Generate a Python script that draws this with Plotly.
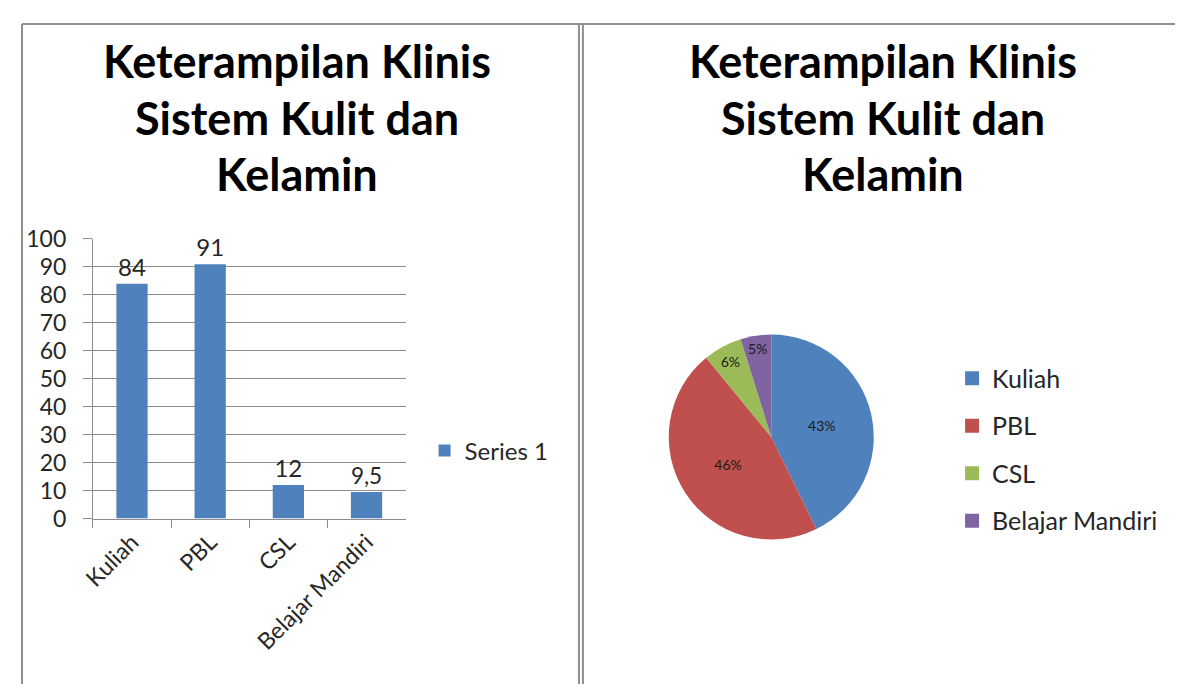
import plotly.graph_objects as go

categories = ["Kuliah", "PBL", "CSL", "Belajar Mandiri"]
values = [84, 91, 12, 9.5]
series_name = "Series 1"
title_lines = ["Keterampilan Klinis", "Sistem Kulit dan", "Kelamin"]
y_ticks = list(range(0, 101, 10))

colors = ["#4F81BD", "#C0504D", "#9BBB59", "#8064A2"]
W, H = 1183, 689
FONT = "Lato"
TXT = "#262626"
GRID = "#8c8c8c"

# measured photo mapping: screen = offset + scale * figure pixel
SX, OX = 0.99, 19
SY, OY = 0.964, 21


def px(x):
    return ((x - OX) / SX) / W


def py(y):
    return 1 - ((y - OY) / SY) / H


fig = go.Figure()

fig.add_trace(go.Bar(
    x=categories, y=values, name=series_name,
    marker=dict(color=colors[0], line=dict(width=0)),
    width=0.4,
    texttemplate="%{y}", textposition="outside",
    textfont=dict(family=FONT, size=24, color=TXT),
    cliponaxis=False, legend="legend", showlegend=True,
))

fig.add_trace(go.Pie(
    labels=categories,
    values=values,
    marker=dict(colors=colors, line=dict(width=0)),
    sort=False, direction="clockwise", rotation=0,
    texttemplate="%{percent:.0%}", textposition="inside",
    insidetextorientation="horizontal",
    textfont=dict(family=FONT, size=14, color="#1a1a1a"),
    domain=dict(x=[px(666), px(874)], y=[py(540), py(334)]),
    showlegend=False,
))

# legend entries for the pie slices (one group each so they can be spaced)
for name, col in zip(categories, colors):
    fig.add_trace(go.Scatter(
        x=[None], y=[None], mode="markers", name=name,
        marker=dict(symbol="square", size=14, color=col),
        legend="legend2", legendgroup=name, showlegend=True, hoverinfo="skip",
    ))

fig.update_layout(
    width=W, height=H,
    margin=dict(l=0, r=0, t=0, b=0),
    paper_bgcolor="white", plot_bgcolor="white",
    separators=",.",
    font=dict(family=FONT, size=23, color=TXT),
    xaxis=dict(
        domain=[px(91), px(404)],
        tickangle=-45, tickson="boundaries", ticks="outside", ticklen=8,
        tickcolor=GRID, showline=True, linecolor=GRID, linewidth=1,
        tickfont=dict(family=FONT, size=23, color=TXT),
        showgrid=False,
    ),
    yaxis=dict(
        domain=[py(519), py(238)],
        range=[0, 100], tickvals=y_ticks, ticks="outside", ticklen=9,
        tickcolor=GRID, showline=True, linecolor=GRID, linewidth=1,
        gridcolor=GRID, gridwidth=1, zeroline=False,
        tickfont=dict(family=FONT, size=23, color=TXT),
        ticklabelstandoff=12,
    ),
    legend=dict(
        x=px(423), y=py(451), xanchor="left", yanchor="middle",
        font=dict(family=FONT, size=24, color=TXT),
        bgcolor="rgba(0,0,0,0)", itemwidth=30,
    ),
    legend2=dict(
        x=px(951), y=py(355), xanchor="left", yanchor="top",
        font=dict(family=FONT, size=25, color=TXT),
        bgcolor="rgba(0,0,0,0)", itemwidth=30, tracegroupgap=12,
    ),
)

# titles
for cx in (295, 882):
    for i, line in enumerate(title_lines):
        fig.add_annotation(
            x=px(cx), y=py(59 + 57 * i), xref="paper", yref="paper",
            text="<b>" + line + "</b>", showarrow=False,
            font=dict(family=FONT, size=45, color="black"),
            xanchor="center", yanchor="middle",
        )

# panel borders
border = dict(color="#8f8f8f", width=2)
top = 1 - 1 / H
left = 1 / W
fig.add_shape(type="line", xref="paper", yref="paper", x0=left, x1=px(1182), y0=top, y1=top, line=border)
fig.add_shape(type="line", xref="paper", yref="paper", x0=left, x1=left, y0=top, y1=0, line=border)
fig.add_shape(type="line", xref="paper", yref="paper", x0=px(577.5), x1=px(577.5), y0=top, y1=0, line=border)
fig.add_shape(type="line", xref="paper", yref="paper", x0=px(581.5), x1=px(581.5), y0=top, y1=0, line=border)
fig.add_shape(type="line", xref="paper", yref="paper", x0=px(1181), x1=px(1181), y0=top, y1=0, line=border)

fig.write_html("out.html")
